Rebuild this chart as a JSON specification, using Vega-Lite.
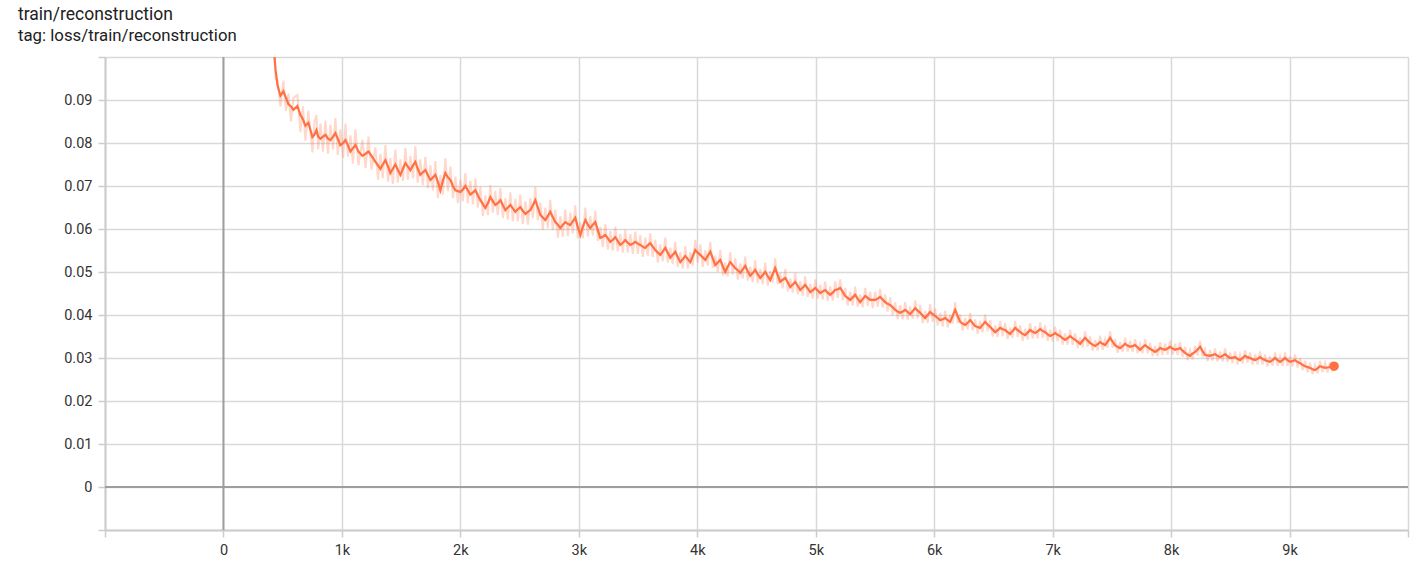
{
 "$schema": "https://vega.github.io/schema/vega-lite/v6.json",
 "width": 1303, "height": 473,
 "autosize": {"type": "none"},
 "padding": {"left": 105, "top": 57, "right": 5, "bottom": 34},
 "background": "white",
 "title": {"text": "train/reconstruction", "subtitle": "tag: loss/train/reconstruction", "anchor": "start", "frame": "group", "dx": -87, "offset": 11, "font": "Roboto", "fontSize": 17.5, "fontWeight": "normal", "color": "#212121", "subtitleFont": "Roboto", "subtitleFontSize": 16.8, "subtitleColor": "#212121", "subtitlePadding": 5},
 "config": {
  "view": {"stroke": null},
  "axis": {"gridColor": "#d9d9d9", "gridWidth": 1.5, "domainColor": "#cccccc", "domainWidth": 2, "tickColor": "#cccccc", "tickWidth": 1.5, "tickSize": 7, "labelFont": "Roboto", "labelFontSize": 14.5, "labelColor": "#333333", "labelPadding": 6, "title": null}
 },
 "datasets": {"d": [
{"s":400,"m":0.118,"v":0.12},{"s":420,"m":0.104,"v":0.106},{"s":440,"m":0.097,"v":0.095},{"s":456,"m":0.0935,"v":0.0945},{"s":481,"m":0.091,"v":0.0885},{"s":506,"m":0.092,"v":0.0945},{"s":528,"m":0.0905,"v":0.0875},{"s":549,"m":0.089,"v":0.0915},{"s":570,"m":0.0885,"v":0.085},{"s":591,"m":0.0877,"v":0.0905},{"s":624,"m":0.0886,"v":0.0912},{"s":650,"m":0.0865,"v":0.0825},{"s":671,"m":0.0855,"v":0.0885},{"s":692,"m":0.084,"v":0.0805},{"s":717,"m":0.0847,"v":0.0875},{"s":751,"m":0.0814,"v":0.0778},{"s":770,"m":0.082,"v":0.0852},{"s":785,"m":0.083,"v":0.0865},{"s":800,"m":0.0815,"v":0.0785},{"s":819,"m":0.081,"v":0.0845},{"s":840,"m":0.0815,"v":0.078},{"s":861,"m":0.0819,"v":0.0852},{"s":882,"m":0.081,"v":0.0775},{"s":903,"m":0.0807,"v":0.0842},{"s":925,"m":0.0815,"v":0.0785},{"s":945,"m":0.0823,"v":0.0858},{"s":965,"m":0.081,"v":0.0772},{"s":987,"m":0.0795,"v":0.0832},{"s":1010,"m":0.08,"v":0.0765},{"s":1030,"m":0.0807,"v":0.0845},{"s":1050,"m":0.0795,"v":0.0768},{"s":1072,"m":0.078,"v":0.0818},{"s":1093,"m":0.0788,"v":0.0752},{"s":1114,"m":0.0795,"v":0.0832},{"s":1140,"m":0.078,"v":0.0748},{"s":1173,"m":0.077,"v":0.0808},{"s":1200,"m":0.0775,"v":0.0742},{"s":1224,"m":0.078,"v":0.0815},{"s":1250,"m":0.077,"v":0.0738},{"s":1283,"m":0.0756,"v":0.079},{"s":1305,"m":0.0748,"v":0.0715},{"s":1325,"m":0.074,"v":0.0775},{"s":1345,"m":0.075,"v":0.0718},{"s":1367,"m":0.076,"v":0.0795},{"s":1390,"m":0.0745,"v":0.071},{"s":1409,"m":0.073,"v":0.0765},{"s":1430,"m":0.074,"v":0.0705},{"s":1451,"m":0.075,"v":0.0785},{"s":1472,"m":0.0738,"v":0.0708},{"s":1494,"m":0.0726,"v":0.0762},{"s":1515,"m":0.074,"v":0.0712},{"s":1536,"m":0.0753,"v":0.0788},{"s":1557,"m":0.0745,"v":0.0715},{"s":1578,"m":0.0737,"v":0.077},{"s":1600,"m":0.0748,"v":0.0718},{"s":1620,"m":0.0756,"v":0.0792},{"s":1640,"m":0.074,"v":0.0708},{"s":1662,"m":0.0726,"v":0.0762},{"s":1683,"m":0.0732,"v":0.0702},{"s":1705,"m":0.0737,"v":0.0768},{"s":1726,"m":0.0725,"v":0.0695},{"s":1747,"m":0.0714,"v":0.0748},{"s":1768,"m":0.072,"v":0.069},{"s":1789,"m":0.0726,"v":0.0758},{"s":1810,"m":0.071,"v":0.0672},{"s":1831,"m":0.069,"v":0.0725},{"s":1852,"m":0.0712,"v":0.068},{"s":1873,"m":0.073,"v":0.0765},{"s":1895,"m":0.072,"v":0.0688},{"s":1916,"m":0.0714,"v":0.0745},{"s":1937,"m":0.07,"v":0.0672},{"s":1958,"m":0.069,"v":0.0722},{"s":1979,"m":0.0688,"v":0.066},{"s":2000,"m":0.0686,"v":0.0715},{"s":2021,"m":0.0692,"v":0.0665},{"s":2042,"m":0.07,"v":0.073},{"s":2063,"m":0.069,"v":0.066},{"s":2084,"m":0.068,"v":0.0712},{"s":2106,"m":0.0685,"v":0.0658},{"s":2127,"m":0.069,"v":0.0718},{"s":2148,"m":0.0678,"v":0.065},{"s":2169,"m":0.0667,"v":0.0698},{"s":2190,"m":0.0658,"v":0.063},{"s":2211,"m":0.0649,"v":0.0678},{"s":2232,"m":0.066,"v":0.0632},{"s":2253,"m":0.0674,"v":0.0702},{"s":2274,"m":0.0665,"v":0.0638},{"s":2295,"m":0.0656,"v":0.0688},{"s":2316,"m":0.066,"v":0.0632},{"s":2338,"m":0.0667,"v":0.0695},{"s":2359,"m":0.0655,"v":0.0625},{"s":2380,"m":0.0644,"v":0.0672},{"s":2401,"m":0.065,"v":0.0622},{"s":2422,"m":0.0656,"v":0.0685},{"s":2443,"m":0.0648,"v":0.0618},{"s":2464,"m":0.064,"v":0.067},{"s":2485,"m":0.0646,"v":0.0618},{"s":2506,"m":0.0651,"v":0.068},{"s":2527,"m":0.0642,"v":0.0612},{"s":2549,"m":0.0635,"v":0.0665},{"s":2570,"m":0.064,"v":0.061},{"s":2591,"m":0.0644,"v":0.0672},{"s":2612,"m":0.0655,"v":0.0625},{"s":2633,"m":0.0667,"v":0.0698},{"s":2654,"m":0.065,"v":0.062},{"s":2675,"m":0.0633,"v":0.0662},{"s":2696,"m":0.0627,"v":0.0598},{"s":2717,"m":0.0621,"v":0.065},{"s":2738,"m":0.063,"v":0.0602},{"s":2759,"m":0.064,"v":0.0668},{"s":2780,"m":0.0628,"v":0.0598},{"s":2802,"m":0.0616,"v":0.0645},{"s":2823,"m":0.061,"v":0.058},{"s":2844,"m":0.0602,"v":0.063},{"s":2865,"m":0.061,"v":0.0582},{"s":2886,"m":0.0616,"v":0.0645},{"s":2907,"m":0.0612,"v":0.0584},{"s":2928,"m":0.0609,"v":0.0638},{"s":2949,"m":0.0618,"v":0.059},{"s":2970,"m":0.0626,"v":0.0655},{"s":2991,"m":0.0605,"v":0.0578},{"s":3013,"m":0.0586,"v":0.0615},{"s":3034,"m":0.0605,"v":0.0578},{"s":3055,"m":0.0621,"v":0.065},{"s":3076,"m":0.061,"v":0.0582},{"s":3097,"m":0.0602,"v":0.063},{"s":3118,"m":0.061,"v":0.0585},{"s":3139,"m":0.0616,"v":0.0642},{"s":3160,"m":0.0598,"v":0.0572},{"s":3181,"m":0.0579,"v":0.0605},{"s":3202,"m":0.0582,"v":0.0558},{"s":3224,"m":0.0586,"v":0.0612},{"s":3245,"m":0.0578,"v":0.0552},{"s":3266,"m":0.057,"v":0.0595},{"s":3287,"m":0.0575,"v":0.055},{"s":3308,"m":0.0581,"v":0.0605},{"s":3329,"m":0.0572,"v":0.0548},{"s":3350,"m":0.0563,"v":0.0588},{"s":3371,"m":0.0568,"v":0.0545},{"s":3392,"m":0.0574,"v":0.0598},{"s":3413,"m":0.0568,"v":0.0545},{"s":3435,"m":0.0563,"v":0.0588},{"s":3456,"m":0.0566,"v":0.0542},{"s":3477,"m":0.057,"v":0.0594},{"s":3498,"m":0.0566,"v":0.0542},{"s":3519,"m":0.0563,"v":0.0586},{"s":3540,"m":0.0559,"v":0.0535},{"s":3561,"m":0.0556,"v":0.058},{"s":3582,"m":0.0562,"v":0.0538},{"s":3603,"m":0.0567,"v":0.059},{"s":3624,"m":0.0559,"v":0.0535},{"s":3646,"m":0.0551,"v":0.0575},{"s":3667,"m":0.0545,"v":0.0522},{"s":3688,"m":0.054,"v":0.0564},{"s":3709,"m":0.0548,"v":0.0525},{"s":3730,"m":0.0556,"v":0.058},{"s":3751,"m":0.0545,"v":0.0522},{"s":3772,"m":0.0533,"v":0.0556},{"s":3793,"m":0.054,"v":0.0518},{"s":3814,"m":0.0547,"v":0.057},{"s":3835,"m":0.0535,"v":0.0512},{"s":3857,"m":0.0523,"v":0.0546},{"s":3878,"m":0.053,"v":0.0508},{"s":3899,"m":0.0537,"v":0.056},{"s":3920,"m":0.053,"v":0.0508},{"s":3941,"m":0.0523,"v":0.0546},{"s":3962,"m":0.0537,"v":0.0515},{"s":3983,"m":0.0551,"v":0.0575},{"s":4004,"m":0.0545,"v":0.0522},{"s":4025,"m":0.054,"v":0.0564},{"s":4046,"m":0.0534,"v":0.0512},{"s":4068,"m":0.0528,"v":0.0551},{"s":4089,"m":0.0538,"v":0.0515},{"s":4110,"m":0.0547,"v":0.057},{"s":4131,"m":0.0532,"v":0.051},{"s":4152,"m":0.0516,"v":0.0538},{"s":4173,"m":0.0522,"v":0.05},{"s":4194,"m":0.0528,"v":0.0551},{"s":4215,"m":0.0514,"v":0.0492},{"s":4236,"m":0.05,"v":0.0522},{"s":4257,"m":0.0512,"v":0.049},{"s":4278,"m":0.0523,"v":0.0546},{"s":4299,"m":0.0516,"v":0.0494},{"s":4321,"m":0.0509,"v":0.0532},{"s":4342,"m":0.0504,"v":0.0482},{"s":4363,"m":0.0498,"v":0.052},{"s":4384,"m":0.0506,"v":0.0485},{"s":4405,"m":0.0514,"v":0.0536},{"s":4426,"m":0.0502,"v":0.048},{"s":4447,"m":0.0491,"v":0.0512},{"s":4468,"m":0.0498,"v":0.0476},{"s":4489,"m":0.0505,"v":0.0527},{"s":4510,"m":0.0495,"v":0.0474},{"s":4532,"m":0.0486,"v":0.0507},{"s":4553,"m":0.0493,"v":0.0472},{"s":4574,"m":0.05,"v":0.0522},{"s":4595,"m":0.049,"v":0.0468},{"s":4616,"m":0.0481,"v":0.0502},{"s":4637,"m":0.0495,"v":0.0475},{"s":4658,"m":0.0509,"v":0.0532},{"s":4679,"m":0.0493,"v":0.0472},{"s":4700,"m":0.0477,"v":0.0498},{"s":4721,"m":0.0482,"v":0.0462},{"s":4743,"m":0.0486,"v":0.0507},{"s":4764,"m":0.0476,"v":0.0455},{"s":4785,"m":0.0465,"v":0.0485},{"s":4806,"m":0.0471,"v":0.0452},{"s":4827,"m":0.0477,"v":0.0498},{"s":4848,"m":0.0468,"v":0.0448},{"s":4869,"m":0.0458,"v":0.0478},{"s":4890,"m":0.0464,"v":0.0445},{"s":4911,"m":0.047,"v":0.049},{"s":4932,"m":0.0462,"v":0.0442},{"s":4954,"m":0.0453,"v":0.0472},{"s":4975,"m":0.0458,"v":0.0438},{"s":4996,"m":0.0463,"v":0.0483},{"s":5017,"m":0.0457,"v":0.0438},{"s":5038,"m":0.0451,"v":0.047},{"s":5059,"m":0.0455,"v":0.0436},{"s":5080,"m":0.0458,"v":0.0478},{"s":5101,"m":0.0452,"v":0.0433},{"s":5122,"m":0.0447,"v":0.0466},{"s":5143,"m":0.0452,"v":0.0433},{"s":5165,"m":0.0458,"v":0.0478},{"s":5186,"m":0.046,"v":0.044},{"s":5207,"m":0.0463,"v":0.0483},{"s":5228,"m":0.0454,"v":0.0434},{"s":5249,"m":0.0444,"v":0.0463},{"s":5270,"m":0.044,"v":0.0422},{"s":5291,"m":0.0435,"v":0.0454},{"s":5312,"m":0.0441,"v":0.0422},{"s":5333,"m":0.0447,"v":0.0466},{"s":5354,"m":0.0438,"v":0.0419},{"s":5375,"m":0.043,"v":0.0448},{"s":5396,"m":0.0437,"v":0.0418},{"s":5418,"m":0.0444,"v":0.0463},{"s":5439,"m":0.044,"v":0.0421},{"s":5460,"m":0.0435,"v":0.0454},{"s":5481,"m":0.0435,"v":0.0416},{"s":5502,"m":0.0435,"v":0.0454},{"s":5523,"m":0.0438,"v":0.0419},{"s":5544,"m":0.0442,"v":0.0461},{"s":5565,"m":0.0436,"v":0.0417},{"s":5586,"m":0.043,"v":0.0448},{"s":5607,"m":0.0426,"v":0.0408},{"s":5629,"m":0.0423,"v":0.0441},{"s":5650,"m":0.0418,"v":0.04},{"s":5671,"m":0.0412,"v":0.043},{"s":5692,"m":0.0408,"v":0.039},{"s":5713,"m":0.0405,"v":0.0423},{"s":5734,"m":0.0408,"v":0.039},{"s":5755,"m":0.0412,"v":0.043},{"s":5776,"m":0.0407,"v":0.0389},{"s":5797,"m":0.0402,"v":0.042},{"s":5818,"m":0.0409,"v":0.0391},{"s":5840,"m":0.0416,"v":0.0434},{"s":5861,"m":0.041,"v":0.0392},{"s":5882,"m":0.0405,"v":0.0423},{"s":5903,"m":0.0399,"v":0.0381},{"s":5924,"m":0.0393,"v":0.041},{"s":5945,"m":0.04,"v":0.0382},{"s":5966,"m":0.0407,"v":0.0425},{"s":5987,"m":0.0402,"v":0.0384},{"s":6008,"m":0.0398,"v":0.0415},{"s":6029,"m":0.0393,"v":0.0376},{"s":6051,"m":0.0388,"v":0.0405},{"s":6072,"m":0.039,"v":0.0373},{"s":6093,"m":0.0393,"v":0.041},{"s":6114,"m":0.0388,"v":0.0371},{"s":6135,"m":0.0384,"v":0.0401},{"s":6156,"m":0.0398,"v":0.038},{"s":6177,"m":0.0412,"v":0.043},{"s":6198,"m":0.0398,"v":0.0381},{"s":6219,"m":0.0384,"v":0.0401},{"s":6240,"m":0.038,"v":0.0364},{"s":6262,"m":0.0377,"v":0.0393},{"s":6283,"m":0.0382,"v":0.0366},{"s":6304,"m":0.0388,"v":0.0405},{"s":6325,"m":0.0381,"v":0.0364},{"s":6346,"m":0.0374,"v":0.039},{"s":6367,"m":0.0372,"v":0.0356},{"s":6388,"m":0.037,"v":0.0386},{"s":6409,"m":0.0377,"v":0.036},{"s":6430,"m":0.0384,"v":0.0401},{"s":6451,"m":0.0378,"v":0.0362},{"s":6473,"m":0.0372,"v":0.0388},{"s":6494,"m":0.0366,"v":0.035},{"s":6515,"m":0.036,"v":0.0376},{"s":6536,"m":0.0365,"v":0.0349},{"s":6557,"m":0.037,"v":0.0386},{"s":6578,"m":0.0367,"v":0.0351},{"s":6599,"m":0.0365,"v":0.0381},{"s":6620,"m":0.036,"v":0.0344},{"s":6641,"m":0.0356,"v":0.0371},{"s":6662,"m":0.0363,"v":0.0347},{"s":6684,"m":0.037,"v":0.0386},{"s":6705,"m":0.0365,"v":0.0349},{"s":6726,"m":0.036,"v":0.0376},{"s":6747,"m":0.0356,"v":0.034},{"s":6768,"m":0.0353,"v":0.0368},{"s":6789,"m":0.0359,"v":0.0343},{"s":6810,"m":0.0365,"v":0.0381},{"s":6831,"m":0.0361,"v":0.0345},{"s":6852,"m":0.0358,"v":0.0374},{"s":6873,"m":0.0362,"v":0.0346},{"s":6895,"m":0.0367,"v":0.0383},{"s":6916,"m":0.0363,"v":0.0347},{"s":6937,"m":0.036,"v":0.0376},{"s":6958,"m":0.0355,"v":0.034},{"s":6979,"m":0.0351,"v":0.0366},{"s":7000,"m":0.0354,"v":0.0339},{"s":7021,"m":0.0358,"v":0.0373},{"s":7042,"m":0.0354,"v":0.0339},{"s":7063,"m":0.0351,"v":0.0366},{"s":7084,"m":0.0346,"v":0.0331},{"s":7105,"m":0.0342,"v":0.0357},{"s":7126,"m":0.0346,"v":0.0331},{"s":7148,"m":0.0351,"v":0.0366},{"s":7169,"m":0.0346,"v":0.0331},{"s":7190,"m":0.0342,"v":0.0357},{"s":7211,"m":0.0338,"v":0.0323},{"s":7232,"m":0.0333,"v":0.0348},{"s":7253,"m":0.034,"v":0.0325},{"s":7274,"m":0.0347,"v":0.0362},{"s":7295,"m":0.0341,"v":0.0326},{"s":7316,"m":0.0335,"v":0.035},{"s":7337,"m":0.0331,"v":0.0317},{"s":7359,"m":0.0328,"v":0.0342},{"s":7380,"m":0.0332,"v":0.0318},{"s":7401,"m":0.0337,"v":0.0352},{"s":7422,"m":0.0333,"v":0.0319},{"s":7443,"m":0.033,"v":0.0344},{"s":7464,"m":0.0338,"v":0.0324},{"s":7485,"m":0.0347,"v":0.0362},{"s":7506,"m":0.0338,"v":0.0324},{"s":7527,"m":0.033,"v":0.0344},{"s":7548,"m":0.0326,"v":0.0312},{"s":7570,"m":0.0323,"v":0.0337},{"s":7591,"m":0.0328,"v":0.0314},{"s":7612,"m":0.0333,"v":0.0347},{"s":7633,"m":0.0329,"v":0.0315},{"s":7654,"m":0.0326,"v":0.034},{"s":7675,"m":0.0328,"v":0.0314},{"s":7696,"m":0.033,"v":0.0344},{"s":7717,"m":0.0325,"v":0.0311},{"s":7738,"m":0.0319,"v":0.0333},{"s":7759,"m":0.0325,"v":0.0311},{"s":7781,"m":0.033,"v":0.0344},{"s":7802,"m":0.0325,"v":0.0311},{"s":7823,"m":0.0321,"v":0.0335},{"s":7844,"m":0.0318,"v":0.0304},{"s":7865,"m":0.0314,"v":0.0328},{"s":7886,"m":0.0318,"v":0.0304},{"s":7907,"m":0.0323,"v":0.0337},{"s":7928,"m":0.0321,"v":0.0307},{"s":7949,"m":0.0319,"v":0.0333},{"s":7970,"m":0.0322,"v":0.0308},{"s":7992,"m":0.0326,"v":0.034},{"s":8013,"m":0.0322,"v":0.0308},{"s":8034,"m":0.0319,"v":0.0333},{"s":8055,"m":0.0321,"v":0.0307},{"s":8076,"m":0.0323,"v":0.0337},{"s":8097,"m":0.0317,"v":0.0303},{"s":8118,"m":0.0312,"v":0.0326},{"s":8139,"m":0.0308,"v":0.0295},{"s":8160,"m":0.0305,"v":0.0318},{"s":8181,"m":0.031,"v":0.0297},{"s":8203,"m":0.0314,"v":0.0328},{"s":8224,"m":0.032,"v":0.0306},{"s":8245,"m":0.0326,"v":0.034},{"s":8266,"m":0.0316,"v":0.0302},{"s":8287,"m":0.0307,"v":0.032},{"s":8308,"m":0.0306,"v":0.0293},{"s":8329,"m":0.0305,"v":0.0318},{"s":8350,"m":0.0307,"v":0.0294},{"s":8371,"m":0.0309,"v":0.0322},{"s":8392,"m":0.0305,"v":0.0292},{"s":8414,"m":0.0302,"v":0.0315},{"s":8435,"m":0.0305,"v":0.0292},{"s":8456,"m":0.0309,"v":0.0322},{"s":8477,"m":0.0304,"v":0.0291},{"s":8498,"m":0.03,"v":0.0313},{"s":8519,"m":0.0301,"v":0.0288},{"s":8540,"m":0.0302,"v":0.0315},{"s":8561,"m":0.0298,"v":0.0285},{"s":8582,"m":0.0295,"v":0.0308},{"s":8603,"m":0.03,"v":0.0287},{"s":8624,"m":0.0305,"v":0.0318},{"s":8645,"m":0.0302,"v":0.0289},{"s":8667,"m":0.03,"v":0.0313},{"s":8688,"m":0.0297,"v":0.0284},{"s":8709,"m":0.0295,"v":0.0308},{"s":8730,"m":0.0298,"v":0.0285},{"s":8751,"m":0.0302,"v":0.0315},{"s":8772,"m":0.0298,"v":0.0285},{"s":8793,"m":0.0295,"v":0.0308},{"s":8814,"m":0.0293,"v":0.028},{"s":8835,"m":0.0291,"v":0.0304},{"s":8856,"m":0.0295,"v":0.0282},{"s":8878,"m":0.03,"v":0.0313},{"s":8899,"m":0.0295,"v":0.0282},{"s":8920,"m":0.0291,"v":0.0304},{"s":8941,"m":0.0295,"v":0.0282},{"s":8962,"m":0.03,"v":0.0313},{"s":8983,"m":0.0295,"v":0.0282},{"s":9004,"m":0.0291,"v":0.0304},{"s":9025,"m":0.0293,"v":0.028},{"s":9046,"m":0.0295,"v":0.0308},{"s":9067,"m":0.0291,"v":0.0278},{"s":9089,"m":0.0288,"v":0.03},{"s":9110,"m":0.0284,"v":0.0272},{"s":9131,"m":0.0281,"v":0.0293},{"s":9152,"m":0.0279,"v":0.0267},{"s":9173,"m":0.0277,"v":0.0289},{"s":9194,"m":0.0274,"v":0.0262},{"s":9215,"m":0.0272,"v":0.0284},{"s":9236,"m":0.0276,"v":0.0264},{"s":9257,"m":0.0281,"v":0.0293},{"s":9278,"m":0.0279,"v":0.0267},{"s":9300,"m":0.0277,"v":0.0289},{"s":9321,"m":0.0278,"v":0.0266},{"s":9342,"m":0.0279,"v":0.029},{"s":9360,"m":0.028,"v":0.0272},{"s":9376,"m":0.0281,"v":0.0286}
 ],
 "zx": [{"z": 0}]},
 "layer": [
  {
   "data": {"name": "zx"},
   "mark": {"type": "rule", "color": "#9e9e9e", "strokeWidth": 2},
   "encoding": {
    "x": {"field": "z", "type": "quantitative", "scale": {"domain": [-1000, 10000], "nice": false, "zero": false},
      "axis": {"values": [-1000, 0, 1000, 2000, 3000, 4000, 5000, 6000, 7000, 8000, 9000, 10000], "labelExpr": "datum.value == 0 ? '0' : (datum.value < 0 || datum.value > 9500) ? '' : (datum.value / 1000) + 'k'"}}
   }
  },
  {
   "data": {"name": "zx"},
   "mark": {"type": "rule", "color": "#9e9e9e", "strokeWidth": 2},
   "encoding": {
    "y": {"field": "z", "type": "quantitative", "scale": {"domain": [-0.01, 0.1], "nice": false, "zero": false},
      "axis": {"values": [-0.01, 0, 0.01, 0.02, 0.03, 0.04, 0.05, 0.06, 0.07, 0.08, 0.09, 0.1], "labelExpr": "(datum.value < -0.001 || datum.value > 0.095) ? '' : (abs(datum.value) < 0.0001 ? '0' : format(datum.value, '.2f'))"}}
   }
  },
  {
   "data": {"name": "d"},
   "mark": {"type": "line", "color": "#ff7043", "opacity": 0.28, "strokeWidth": 2, "clip": true},
   "encoding": {
    "x": {"field": "s", "type": "quantitative", "scale": {"domain": [-1000, 10000], "nice": false, "zero": false}},
    "y": {"field": "v", "type": "quantitative", "scale": {"domain": [-0.01, 0.1], "nice": false, "zero": false}}
   }
  },
  {
   "data": {"name": "d"},
   "mark": {"type": "line", "color": "#ff7043", "strokeWidth": 2.2, "clip": true},
   "encoding": {
    "x": {"field": "s", "type": "quantitative", "scale": {"domain": [-1000, 10000], "nice": false, "zero": false}},
    "y": {"field": "m", "type": "quantitative", "scale": {"domain": [-0.01, 0.1], "nice": false, "zero": false}}
   }
  },
  {
   "data": {"name": "d"},
   "transform": [{"filter": "datum.s == 9376"}],
   "mark": {"type": "point", "filled": true, "color": "#ff7043", "opacity": 1, "size": 90},
   "encoding": {
    "x": {"field": "s", "type": "quantitative", "scale": {"domain": [-1000, 10000], "nice": false, "zero": false}},
    "y": {"field": "m", "type": "quantitative", "scale": {"domain": [-0.01, 0.1], "nice": false, "zero": false}}
   }
  }
 ]
}
